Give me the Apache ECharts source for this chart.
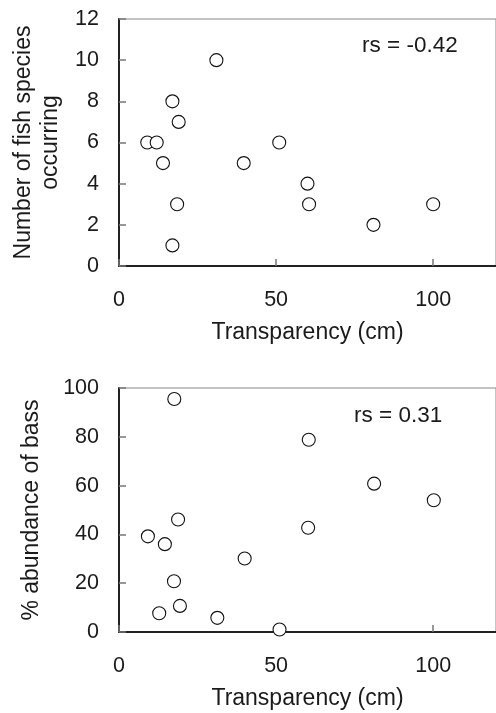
<!DOCTYPE html>
<html>
<head>
<meta charset="utf-8">
<script src="https://cdn.jsdelivr.net/npm/echarts@6/dist/echarts.min.js"></script>
<style>
html,body{margin:0;padding:0;background:#fff;}
#chart{width:496px;height:713px;}
</style>
</head>
<body>
<div id="chart"></div>
<script>
// Panel A: number of fish species vs transparency
const transparencyA = [9, 12, 14, 17, 19, 18.5, 17, 31, 39.7, 51, 60, 60.5, 81, 100];
const speciesCount  = [6, 6, 5, 8, 7, 3, 1, 10, 5, 6, 4, 3, 2, 3];
// Panel B: % abundance of bass vs transparency
const transparencyB = [9.2, 12.8, 14.6, 17.5, 17.6, 18.8, 19.4, 31.3, 40, 51.1, 60.2, 60.4, 81.2, 100.2];
const bassPct       = [39.2, 7.7, 36, 20.8, 95.5, 46.1, 10.7, 5.8, 30.1, 1.0, 42.7, 78.8, 60.8, 54];

const xTicks = [0, 50, 100];
const yTicksA = [0, 2, 4, 6, 8, 10, 12];
const yTicksB = [0, 20, 40, 60, 80, 100];
const xName = 'Transparency (cm)';
const yNameA = 'Number of fish species\noccurring';
const yNameB = '% abundance of bass';
const rsA = 'rs = -0.42';
const rsB = 'rs = 0.31';

const FONT = 'Liberation Sans, Arial, sans-serif';
const TXT = '#1a1a1a';

function pairs(xs, ys){ return xs.map((x,i)=>[x, ys[i]]); }

function xAxisCfg(gi){
  return {
    gridIndex: gi, type: 'value', min: 0, max: 120, interval: 50,
    name: xName, nameLocation: 'middle', nameGap: 53,
    nameTextStyle: {fontFamily: FONT, fontSize: 23, color: TXT, lineHeight: 27},
    axisLine: {show: true, onZero: false, lineStyle: {color: '#222', width: 2}},
    axisTick: {show: true, inside: true, length: 7, lineStyle: {color: '#777', width: 1.5}},
    axisLabel: {fontFamily: FONT, fontSize: 21.5, color: TXT, margin: 23, showMaxLabel: false},
    splitLine: {show: false}
  };
}
function yAxisCfg(gi, max, interval, name, gap){
  return {
    gridIndex: gi, type: 'value', min: 0, max: max, interval: interval,
    name: name, nameLocation: 'middle', nameGap: gap, nameRotate: 90,
    nameTextStyle: {fontFamily: FONT, fontSize: 23, color: TXT, lineHeight: 27, align: 'center'},
    axisLine: {show: true, onZero: false, lineStyle: {color: '#222', width: 2}},
    axisTick: {show: true, inside: true, length: 7, lineStyle: {color: '#777', width: 1.5}},
    axisLabel: {fontFamily: FONT, fontSize: 21.5, color: TXT, margin: 20},
    splitLine: {show: false}
  };
}
const marker = {
  type: 'scatter', symbol: 'circle', symbolSize: 13,
  itemStyle: {color: '#fff', borderColor: '#111', borderWidth: 1.1, opacity: 1},
  emphasis: {disabled: true}, silent: true
};

const chart = echarts.init(document.getElementById('chart'), null, {renderer: 'canvas'});
chart.setOption({
  animation: false,
  backgroundColor: '#fff',
  grid: [
    {left: 119, top: 19, width: 381, height: 247, show: true, borderColor: '#888', borderWidth: 1, backgroundColor: 'transparent'},
    {left: 119, top: 388, width: 381, height: 248, show: true, borderColor: '#888', borderWidth: 1, backgroundColor: 'transparent'}
  ],
  xAxis: [xAxisCfg(0), xAxisCfg(1)],
  yAxis: [
    yAxisCfg(0, 12, 2, yNameA, 55),
    yAxisCfg(1, 100, 20, yNameB, 74)
  ],
  series: [
    Object.assign({xAxisIndex: 0, yAxisIndex: 0, data: pairs(transparencyA, speciesCount)}, marker),
    Object.assign({xAxisIndex: 1, yAxisIndex: 1, data: pairs(transparencyB, bassPct)}, marker)
  ],
  graphic: [
    {type: 'text', x: 362, y: 46, style: {text: rsA, fontFamily: FONT, fontSize: 22.5, fill: TXT, textAlign: 'left', textVerticalAlign: 'middle'}},
    {type: 'text', x: 354, y: 416, style: {text: rsB, fontFamily: FONT, fontSize: 22.5, fill: TXT, textAlign: 'left', textVerticalAlign: 'middle'}}
  ]
});
</script>
</body>
</html>
